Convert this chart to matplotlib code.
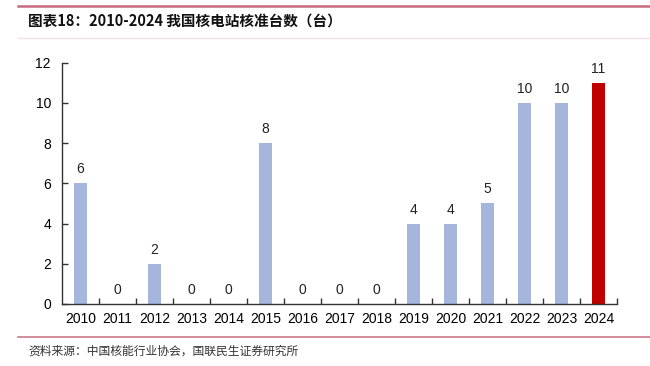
import matplotlib
matplotlib.use("Agg")
import matplotlib.pyplot as plt
from matplotlib.lines import Line2D

plt.rcParams['font.family'] = ['Noto Sans CJK SC', 'DejaVu Sans']

years = ["2010", "2011", "2012", "2013", "2014", "2015", "2016", "2017",
         "2018", "2019", "2020", "2021", "2022", "2023", "2024"]
approvals = [6, 0, 2, 0, 0, 8, 0, 0, 0, 4, 4, 5, 10, 10, 11]
yticks = [0, 2, 4, 6, 8, 10, 12]
title = "图表18：2010-2024 我国核电站核准台数（台）"
source = "资料来源：中国核能行业协会，国联民生证券研究所"

blue = "#a5b6dc"
red = "#c00000"
colors = [red if y == "2024" else blue for y in years]
numfont = 'Liberation Sans'

fig = plt.figure(figsize=(6.5, 3.66), dpi=100)
ax = fig.add_axes([0.0954, 0.1694, 0.854, 0.6593])

x = list(range(len(years)))
bars = ax.bar(x, approvals, width=0.34, color=colors, zorder=2)
for xi, v in zip(x, approvals):
    ax.text(xi, v + 0.35, str(v), ha='center', va='bottom', fontsize=10,
            family=numfont, color='#222222')

ax.set_xlim(-0.5, len(years) - 0.5)
ax.set_ylim(0, 12)
ax.set_yticks(yticks)
ax.set_yticklabels([str(t) for t in yticks], fontsize=10, family=numfont)
ax.set_xticks(x)
ax.set_xticklabels(years, fontsize=10, family=numfont)
ax.tick_params(axis='x', length=0, pad=6)
ax.set_xticks([i + 0.5 for i in x], minor=True)
ax.tick_params(axis='x', which='minor', direction='in', length=4, width=1, color='#333333')
ax.tick_params(axis='y', direction='in', length=4, width=1, color='#333333', pad=8)
for s in ['top', 'right']:
    ax.spines[s].set_visible(False)
for s in ['left', 'bottom']:
    ax.spines[s].set_color('#333333')
    ax.spines[s].set_linewidth(1)

# decorative lines
fig.add_artist(Line2D([18/650, 1], [1 - 6/366, 1 - 6/366], color='#c86a7e', lw=1.8))
fig.add_artist(Line2D([18/650, 1], [1 - 38/366, 1 - 38/366], color='#f5dfe4', lw=1.0))
fig.add_artist(Line2D([18/650, 1], [1 - 337/366, 1 - 337/366], color='#c97a8b', lw=1.2))

fig.text(28/650, 1 - 21/366, title, fontsize=10.5, fontweight='bold', va='center', ha='left',
         color='#111111')
fig.text(28/650, 1 - 351/366, source, fontsize=8.5, va='center', ha='left', color='#333333')

fig.savefig("out.png", dpi=100)
